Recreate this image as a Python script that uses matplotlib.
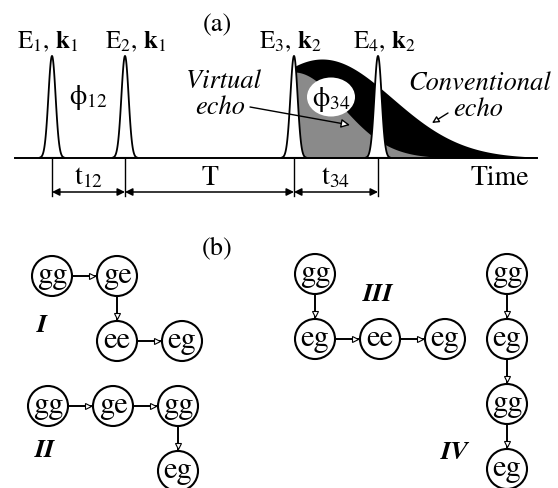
import numpy as np
import matplotlib
matplotlib.use('Agg')
import matplotlib.pyplot as plt
from matplotlib.patches import Circle, Ellipse

plt.rcParams['font.family'] = ['STIXGeneral', 'DejaVu Serif']
plt.rcParams['mathtext.fontset'] = 'stix'

# ---- panel (a) data ----
pulse_t = [52, 125, 294, 378]
pulse_lbl = [r'E$_1$, $\mathbf{k}_1$', r'E$_2$, $\mathbf{k}_1$',
             r'E$_3$, $\mathbf{k}_2$', r'E$_4$, $\mathbf{k}_2$']
pulse_lbl_x = [48, 136, 290, 384]
interval_lbl = [r't$_{12}$', 'T', r't$_{34}$']
pulse_amp = 102
pulse_sig = 3.6
conv_amp, conv_t0, conv_sig = 99, 322, 70
virt_amp, virt_t0, virt_sig = 86, 294, 67
t_end = 537

# ---- panel (b) data ----
path_names = ['I', 'II', 'III', 'IV']
path_nodes = [['gg', 'ge', 'ee', 'eg'],
              ['gg', 'ge', 'gg', 'eg'],
              ['gg', 'eg', 'ee', 'eg'],
              ['gg', 'eg', 'gg', 'eg']]
path_moves = [['R', 'D', 'R'],
              ['R', 'R', 'D'],
              ['D', 'R', 'R'],
              ['D', 'D', 'D']]
path_start = [(52, 277), (48, 407), (315, 275), (507, 275)]
path_lbl_xy = [(42, 325), (45, 450), (378, 294), (455, 452)]

base = 159
fig = plt.figure(figsize=(5.58, 4.89), dpi=100)
ax = fig.add_axes([0, 0, 1, 1])
ax.set_xlim(0, 558)
ax.set_ylim(489, 0)
ax.axis('off')

# echoes
x = np.linspace(pulse_t[2], t_end, 600)
conv = base - conv_amp*np.exp(-(x-conv_t0)**2/(2*conv_sig**2))
ax.fill_between(x, base, conv, color='black', lw=0, zorder=1)
xv = np.linspace(pulse_t[2], 440, 400)
virt = base - virt_amp*np.exp(-((xv-virt_t0)/virt_sig)**2)
ax.fill_between(xv, base, virt, color='#8a8a8a', lw=0, zorder=2)
ax.add_patch(Ellipse((331, 98), 48, 39, fc='white', ec='none', zorder=3))
ax.text(331, 99, r'ϕ$_{34}$', fontsize=20, ha='center', va='center', zorder=4)

# pulses
for t in pulse_t:
    xp = np.linspace(t-13, t+13, 200)
    yp = base - pulse_amp*np.exp(-(xp-t)**2/(2*pulse_sig**2))
    ax.fill(xp, yp, fc='white', ec='black', lw=1.3, zorder=5)
ax.plot([15, t_end], [base, base], color='black', lw=1.4, zorder=6)

for lbl, lx in zip(pulse_lbl, pulse_lbl_x):
    ax.text(lx, 48, lbl, fontsize=18, ha='center', va='baseline')

ax.text(217, 25, '(a)', fontsize=19, ha='center', va='center')
ax.text(88, 98, r'ϕ$_{12}$', fontsize=20, ha='center', va='center')

# time intervals
for t in pulse_t:
    ax.plot([t, t], [base, 197], color='black', lw=1.0)
for i, lbl in enumerate(interval_lbl):
    a, b = pulse_t[i], pulse_t[i+1]
    ax.annotate('', xy=(b, 193), xytext=(a, 193),
                arrowprops=dict(arrowstyle='<|-|>', color='black', lw=1.1,
                                mutation_scale=11, shrinkA=0, shrinkB=0))
    ax.text((a+b)/2, 178, lbl, fontsize=20, ha='center', va='center')
ax.text(500, 178, 'Time', fontsize=20, ha='center', va='center')

# echo captions
ax.text(223, 82, 'Virtual', fontsize=19, style='italic', ha='center', va='center')
ax.text(220, 108, 'echo', fontsize=19, style='italic', ha='center', va='center')
ax.annotate('', xy=(350, 126), xytext=(250, 108),
            arrowprops=dict(arrowstyle='-|>', fc='white', ec='black', lw=1.0,
                            mutation_scale=13, shrinkA=0, shrinkB=0), zorder=7)
ax.text(480, 84, 'Conventional', fontsize=19, style='italic', ha='center', va='center')
ax.text(478, 110, 'echo', fontsize=19, style='italic', ha='center', va='center')
ax.annotate('', xy=(432, 124), xytext=(448, 114),
            arrowprops=dict(arrowstyle='-|>', fc='white', ec='black', lw=1.0,
                            mutation_scale=10, shrinkA=0, shrinkB=0), zorder=7)

# ---- panel (b) ----
ax.text(217, 248, '(b)', fontsize=19, ha='center', va='center')
r = 20
step = 65
for name, nodes, moves, start, lxy in zip(path_names, path_nodes, path_moves,
                                          path_start, path_lbl_xy):
    pts = [start]
    for m in moves:
        px, py = pts[-1]
        pts.append((px+step, py) if m == 'R' else (px, py+step))
    for (cx, cy), lbl in zip(pts, nodes):
        ax.add_patch(Circle((cx, cy), r, fc='white', ec='black', lw=1.5, zorder=3))
        ax.text(cx, cy-1, lbl, fontsize=22, ha='center', va='center', zorder=4)
    for (x0, y0), (x1, y1), m in zip(pts[:-1], pts[1:], moves):
        if m == 'R':
            ax.plot([x0+r, x1-r], [y0, y1], color='black', lw=1.4, zorder=2)
            ax.plot(x1-r-5, y1, marker='>', ms=4.5, mfc='white', mec='black',
                    mew=0.8, zorder=4)
        else:
            ax.plot([x0, x1], [y0+r, y1-r], color='black', lw=1.4, zorder=2)
            ax.plot(x1, y1-r-5, marker='v', ms=4.5, mfc='white', mec='black',
                    mew=0.8, zorder=4)
    ax.text(lxy[0], lxy[1], name, fontsize=19, style='italic', weight='bold',
            ha='center', va='center')

fig.savefig('out.png', dpi=100)
